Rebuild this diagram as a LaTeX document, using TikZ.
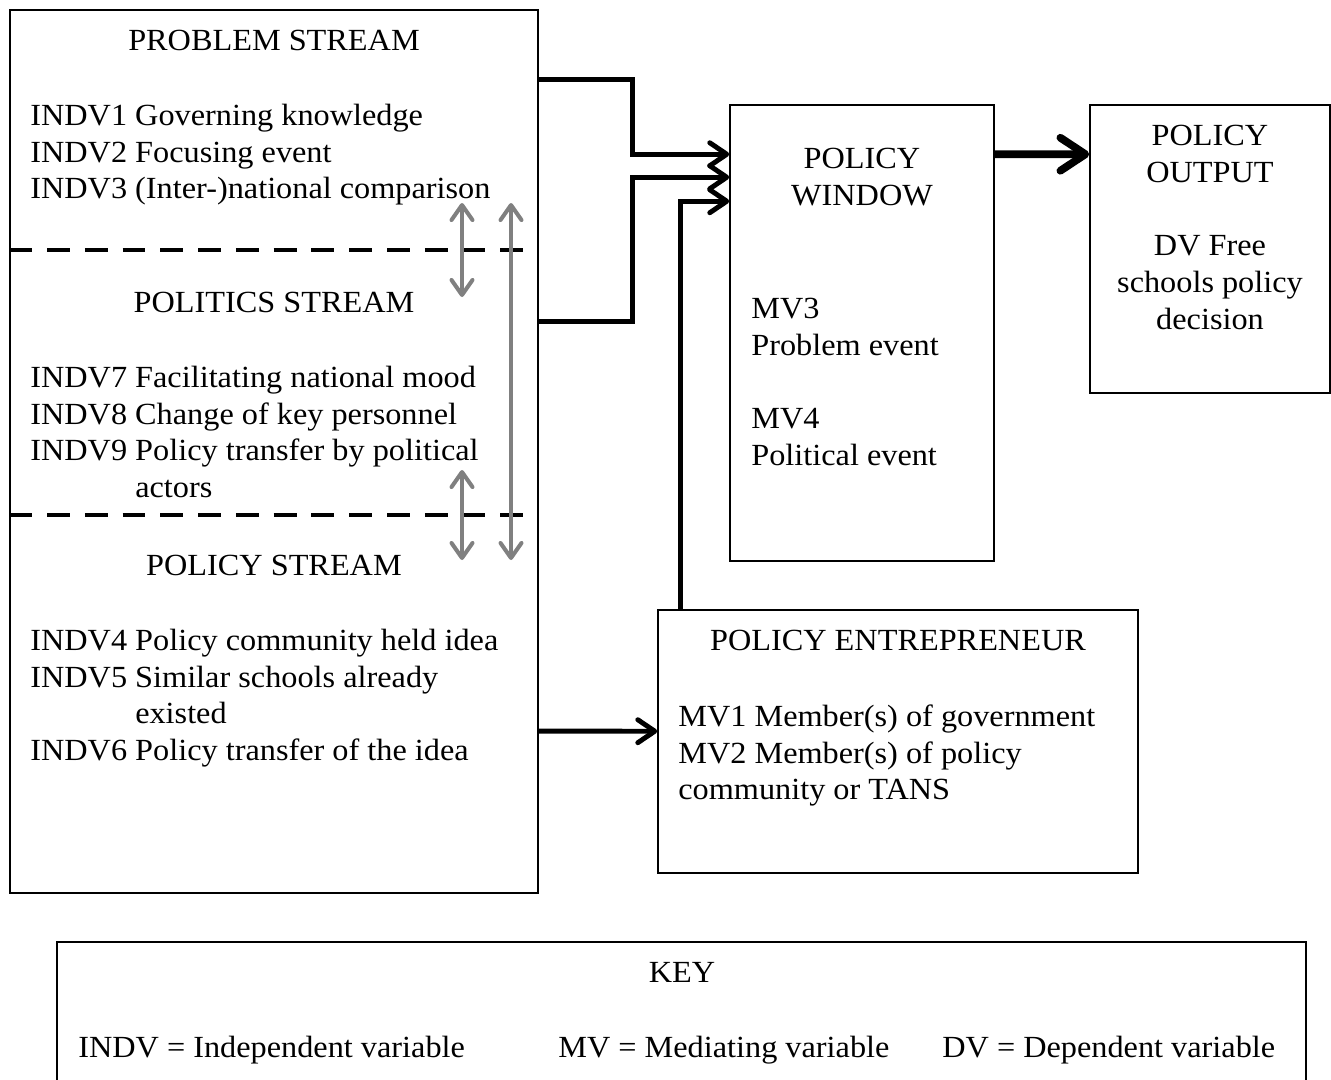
\documentclass[tikz,border=0pt]{standalone}
\usepackage{fontspec}
\setmainfont[FakeStretch=1.05]{Liberation Serif}
\usepackage{tikz}
\usetikzlibrary{arrows.meta}

\begin{document}
\begin{tikzpicture}[
    x=0.02cm, y=-0.02cm,
    every node/.style={font=\fontsize{17.5}{21}\selectfont, inner sep=0pt},
    box/.style={draw, line width=0.9pt},
    txt/.style={anchor=base},
    lst/.style={anchor=north west},
    arr/.style={line width=2.8pt, -{Straight Barb[round, length=0.34cm, width=0.46cm]}},
    bigarr/.style={line width=4.4pt, -{Straight Barb[round, length=0.5cm, width=0.66cm]}},
    twoway/.style={line width=2.3pt, gray, {Straight Barb[round, length=0.3cm, width=0.42cm]}-{Straight Barb[round, length=0.3cm, width=0.42cm]}},
    sep/.style={line width=2.3pt, dash pattern=on 13pt off 8.5pt}
]
    \useasboundingbox (0,0) rectangle (1331,1079);

    % boxes
    \node[box, minimum width=10.56cm, minimum height=17.66cm] (streams) at (274,451.5) {};
    \node[box, minimum width=5.28cm, minimum height=9.12cm] (window) at (862,333) {};
    \node[box, minimum width=4.8cm, minimum height=5.76cm] (output) at (1210,249) {};
    \node[box, minimum width=9.6cm, minimum height=5.26cm] (entre) at (898,741.5) {};
    \node[box, minimum width=24.98cm, minimum height=2.96cm] (key) at (681.5,1016) {};

    % stream separators
    \draw[sep] (streams.west |- 0,250) -- (527,250);
    \draw[sep] (streams.west |- 0,515) -- (527,515);

    % problem stream
    \node[txt] (probtitle) at (274,50) {PROBLEM STREAM};
    \node[lst] (problist) at (30,99) {\begin{tabular}{@{}l@{ }l@{}}
        INDV1 & Governing knowledge\\
        INDV2 & Focusing event\\
        INDV3 & (Inter-)national comparison
    \end{tabular}};

    % politics stream
    \node[txt] (poltitle) at (274,312) {POLITICS STREAM};
    \node[lst] (pollist) at (30,361) {\begin{tabular}{@{}l@{ }l@{}}
        INDV7 & Facilitating national mood\\
        INDV8 & Change of key personnel\\
        INDV9 & Policy transfer by political\\
              & actors
    \end{tabular}};

    % policy stream
    \node[txt] (poltitle2) at (274,575) {POLICY STREAM};
    \node[lst] (policylist) at (30,624) {\begin{tabular}{@{}l@{ }l@{}}
        INDV4 & Policy community held idea\\
        INDV5 & Similar schools already\\
              & existed\\
        INDV6 & Policy transfer of the idea
    \end{tabular}};

    % window
    \node[anchor=north] (wintitle) at (862,142) {\begin{tabular}{@{}c@{}}POLICY\\WINDOW\end{tabular}};
    \node[lst] (winlist) at (751,292) {\begin{tabular}{@{}l@{}}
        MV3\\Problem event\\[21pt]
        MV4\\Political event
    \end{tabular}};

    % output
    \node[anchor=north] (outtext) at (1210,119) {\begin{tabular}{@{}c@{}}
        POLICY\\OUTPUT\\[21pt]
        DV Free\\schools policy\\decision
    \end{tabular}};

    % entrepreneur
    \node[txt] (entretitle) at (898,650) {POLICY ENTREPRENEUR};
    \node[lst] (entrelist) at (678,700) {\begin{tabular}{@{}l@{}}
        MV1 Member(s) of government\\
        MV2 Member(s) of policy\\
        community or TANS
    \end{tabular}};

    % key
    \node[txt] (keytitle) at (682,982) {KEY};
    \node[anchor=base west] (keyindv) at (78,1057) {INDV = Independent variable};
    \node[anchor=base west] (keymv) at (558,1057) {MV = Mediating variable};
    \node[anchor=base west] (keydv) at (942,1057) {DV = Dependent variable};

    % two-way links between streams
    \coordinate (upA) at (462,203);
    \coordinate (upB) at (462,297);
    \coordinate (loA) at (462,470);
    \coordinate (loB) at (462,560);
    \coordinate (allA) at (511,203);
    \coordinate (allB) at (511,560);
    \draw[twoway] (upA) -- (upB);
    \draw[twoway] (loA) -- (loB);
    \draw[twoway] (allA) -- (allB);

    % connectors
    \draw[arr] ([yshift=-1.4cm]streams.north east) -- ++(94,0) |- ([yshift=-1cm]window.north west);
    \draw[arr] ([yshift=-6.24cm]streams.north east) -- ++(94,0) |- ([yshift=-1.46cm]window.north west);
    \draw[arr] ([xshift=0.46cm]entre.north west) |- ([yshift=-1.94cm]window.north west);
    \draw[arr] ([yshift=-14.44cm]streams.north east) -- ([yshift=-2.44cm]entre.north west);
    \draw[bigarr] ([yshift=-1cm]window.north east) -- ([yshift=-1cm]output.north west);
\end{tikzpicture}
\end{document}
